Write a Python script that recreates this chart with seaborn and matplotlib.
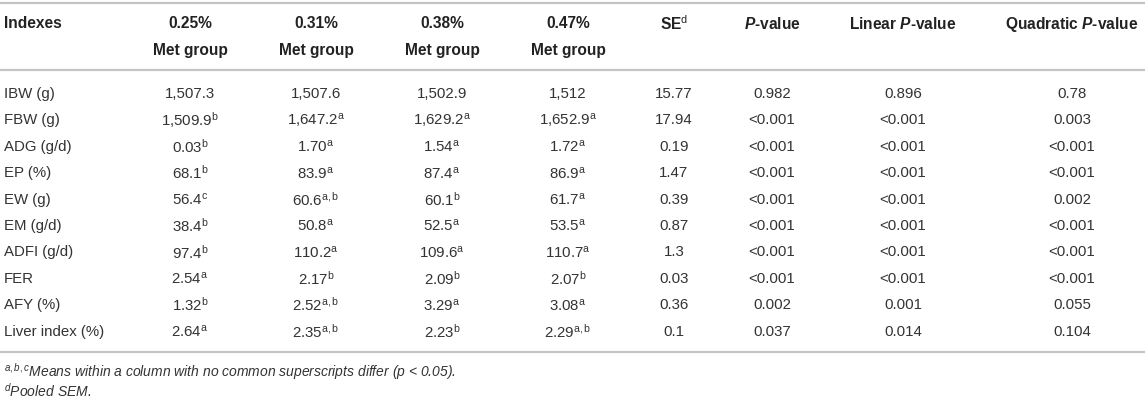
import numpy as np
import pandas as pd
import matplotlib
matplotlib.use('Agg')
import matplotlib.pyplot as plt
import seaborn as sns

# table content
indexes = ['IBW (g)', 'FBW (g)', 'ADG (g/d)', 'EP (%)', 'EW (g)', 'EM (g/d)',
           'ADFI (g/d)', 'FER', 'AFY (%)', 'Liver index (%)']

g025_vals = ['1,507.3', '1,509.9', '0.03', '68.1', '56.4', '38.4', '97.4', '2.54', '1.32', '2.64']
g025_sup = ['', 'b', 'b', 'b', 'c', 'b', 'b', 'a', 'b', 'a']
g031_vals = ['1,507.6', '1,647.2', '1.70', '83.9', '60.6', '50.8', '110.2', '2.17', '2.52', '2.35']
g031_sup = ['', 'a', 'a', 'a', 'a,b', 'a', 'a', 'b', 'a,b', 'a,b']
g038_vals = ['1,502.9', '1,629.2', '1.54', '87.4', '60.1', '52.5', '109.6', '2.09', '3.29', '2.23']
g038_sup = ['', 'a', 'a', 'a', 'b', 'a', 'a', 'b', 'a', 'b']
g047_vals = ['1,512', '1,652.9', '1.72', '86.9', '61.7', '53.5', '110.7', '2.07', '3.08', '2.29']
g047_sup = ['', 'a', 'a', 'a', 'a', 'a', 'a', 'b', 'a', 'a,b']

se_vals = ['15.77', '17.94', '0.19', '1.47', '0.39', '0.87', '1.3', '0.03', '0.36', '0.1']
p_vals = ['0.982', '<0.001', '<0.001', '<0.001', '<0.001', '<0.001', '<0.001', '<0.001', '0.002', '0.037']
lin_p_vals = ['0.896', '<0.001', '<0.001', '<0.001', '<0.001', '<0.001', '<0.001', '<0.001', '0.001', '0.014']
quad_p_vals = ['0.78', '0.003', '<0.001', '<0.001', '0.002', '<0.001', '<0.001', '<0.001', '0.055', '0.104']

headers_1 = ['Indexes', '0.25%', '0.31%', '0.38%', '0.47%', r'SE$^{\mathrm{d}}$',
             r'$\mathbfit{P}$-value', r'Linear $\mathbfit{P}$-value', r'Quadratic $\mathbfit{P}$-value']
headers_2 = ['', 'Met group', 'Met group', 'Met group', 'Met group', '', '', '', '']

footnotes = [r'$^{a,b,c}$Means within a column with no common superscripts differ (p < 0.05).',
             r'$^{d}$Pooled SEM.']


def with_sup(vals, sups):
    '''
    Joins values and their superscript letters as mathtext strings
    '''
    return [v if s == '' else v + r'$^{\mathrm{' + s + '}}$' for v, s in zip(vals, sups)]


df = pd.DataFrame({
    'Indexes': indexes,
    '0.25': with_sup(g025_vals, g025_sup),
    '0.31': with_sup(g031_vals, g031_sup),
    '0.38': with_sup(g038_vals, g038_sup),
    '0.47': with_sup(g047_vals, g047_sup),
    'SE': se_vals,
    'P': p_vals,
    'Linear': lin_p_vals,
    'Quadratic': quad_p_vals,
})

sns.set_theme(style='white')
plt.rcParams['font.family'] = ['Liberation Sans', 'DejaVu Sans']
plt.rcParams['mathtext.fontset'] = 'custom'
plt.rcParams['mathtext.rm'] = 'Liberation Sans'
plt.rcParams['mathtext.it'] = 'Liberation Sans:italic'
plt.rcParams['mathtext.bf'] = 'Liberation Sans:bold'
plt.rcParams['mathtext.bfit'] = 'Liberation Sans:italic:bold'

W, H = 1145, 402
fig = plt.figure(figsize=(W / 100, H / 100), dpi=100)
ax = fig.add_axes([0, 0, 1, 1])
ax.set_xlim(0, W)
ax.set_ylim(H, 0)
ax.axis('off')

# layout (pixels)
col_x = [4, 190, 316, 442, 568, 674, 772, 903, 1072]
head_y1, head_y2 = 24, 50
row_y0, row_step = 94, 26.4
rule_color = '#c4c4c4'
text_color = '#333333'

for y in [4, 71, 353]:
    ax.axhline(y, color=rule_color, lw=1.6)

for i, (h1, h2) in enumerate(zip(headers_1, headers_2)):
    ha = 'left' if i == 0 else 'center'
    ax.text(col_x[i], head_y1, h1, ha=ha, va='center', fontsize=11.2,
            fontweight='bold', color='#222222')
    if h2:
        ax.text(col_x[i], head_y2, h2, ha=ha, va='center', fontsize=11.2,
                fontweight='bold', color='#222222')

for r, row in df.iterrows():
    y = row_y0 + r * row_step
    for i, col in enumerate(df.columns):
        ha = 'left' if i == 0 else 'center'
        ax.text(col_x[i], y, row[col], ha=ha, va='center', fontsize=10.8,
                color=text_color)

for k, note in enumerate(footnotes):
    ax.text(4, 372 + k * 19, note, ha='left', va='center', fontsize=10,
            style='italic', color=text_color)

plt.savefig('out.png', dpi=100)
